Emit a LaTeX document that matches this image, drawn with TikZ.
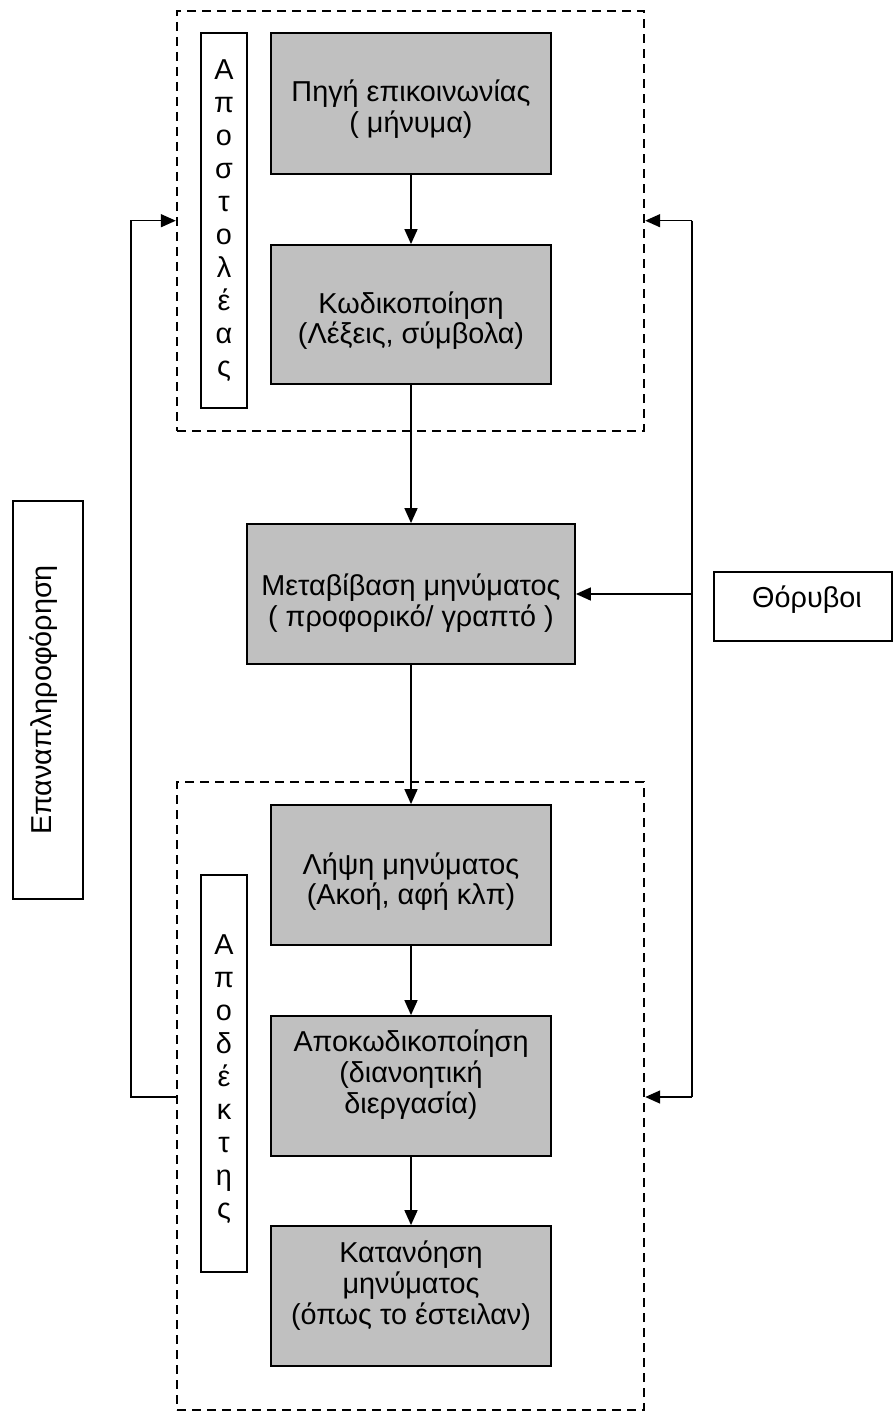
\documentclass[tikz,border=0pt]{standalone}
\usepackage{fontspec}
\setmainfont{Liberation Sans}
\usetikzlibrary{arrows.meta,calc}
\definecolor{boxgray}{HTML}{C0C0C0}
% stack the given lines in a box, first baseline #2 below its top edge
\newcommand\stackedlines[4]{%
  \foreach \ln [count=\k] in {#4}
    \node[txt] (#1-l\k) at ($(#1.north)+(0,#2+#3*\k-#3)$) {\ln};}
\begin{document}
\begin{tikzpicture}[x=1pt,y=-1pt,
  every node/.style={font=\fontsize{28.8}{33}\selectfont},
  gbox/.style={draw, line width=1.8pt, fill=boxgray, inner sep=0pt,
    minimum width=280pt, minimum height=140pt},
  wbox/.style={draw, line width=1.8pt, fill=white, inner sep=0pt},
  frame/.style={draw, line width=2.4pt, dash pattern=on 9pt off 6pt, inner sep=0pt},
  txt/.style={inner sep=0pt, anchor=base},
  link/.style={line width=1.6pt},
  arr/.style={link, -{Triangle[length=15pt,width=13pt]}},
]
\useasboundingbox (0,0) rectangle (893,1412);

% sender and receiver frames
\node[frame, minimum width=467pt, minimum height=420pt] (send) at (410.5,221) {};
\node[frame, minimum width=467pt, minimum height=628pt] (recv) at (410.5,1096) {};

% process steps
\node[gbox, minimum height=141pt] (b1) at (411,103.5) {};
\node[gbox, minimum height=139pt] (b2) at (411,314.5) {};
\node[gbox, minimum width=328pt] (b3) at (411,594) {};
\node[gbox] (b4) at (411,875) {};
\node[gbox] (b5) at (411,1086) {};
\node[gbox] (b6) at (411,1296) {};

\stackedlines{b1}{69}{31}{Πηγή επικοινωνίας,( μήνυμα)}
\stackedlines{b2}{69}{30}{Κωδικοποίηση,{(Λέξεις, σύμβολα)}}
\stackedlines{b3}{72}{31}{Μεταβίβαση μηνύματος,( προφορικό/ γραπτό )}
\stackedlines{b4}{70}{30}{Λήψη μηνύματος,{(Ακοή, αφή κλπ)}}
\stackedlines{b5}{36}{31}{Αποκωδικοποίηση,{(διανοητική},{διεργασία)}}
\stackedlines{b6}{37}{31}{Κατανόηση,μηνύματος,{(όπως το έστειλαν)}}

% side labels
\node[wbox, minimum width=46pt, minimum height=375pt] (apost) at (224,220.5) {};
\stackedlines{apost}{47}{33}{Α,π,ο,σ,τ,ο,λ,έ,α,ς}
\node[wbox, minimum width=46pt, minimum height=397pt] (apod) at (224,1073.5) {};
\stackedlines{apod}{80}{33}{Α,π,ο,δ,έ,κ,τ,η,ς}

\node[wbox, minimum width=70pt, minimum height=398pt] (fbbox) at (48,700) {};
\node[txt, rotate=90] (fbtext) at (51,700) {Επαναπληροφόρηση};

\node[wbox, minimum width=178pt, minimum height=69pt] (noise) at (803,606.5) {};
\node[txt] (noisetext) at ($(noise.center)+(4,1)$) {Θόρυβοι};

% main flow
\draw[arr] (b1) -- (b2);
\draw[arr] (b2) -- (b3);
\draw[arr] (b3) -- (b4);
\draw[arr] (b4) -- (b5);
\draw[arr] (b5) -- (b6);

% feedback loop on the left
\coordinate (fbLow) at (131,1097);
\coordinate (fbHigh) at (131,220.7);
\draw[arr] (fbLow -| recv.west) -- (fbLow) -- (fbHigh) -- (fbHigh -| send.west);

% noise rail on the right
\coordinate (nzTop) at (692,220.7);
\coordinate (nzBot) at (692,1097);
\draw[link] (nzTop) -- (nzBot);
\draw[arr] (nzTop) -- (nzTop -| send.east);
\draw[arr] (b3.east -| nzTop) -- (b3.east);
\draw[arr] (nzBot) -- (nzBot -| recv.east);
\end{tikzpicture}
\end{document}
